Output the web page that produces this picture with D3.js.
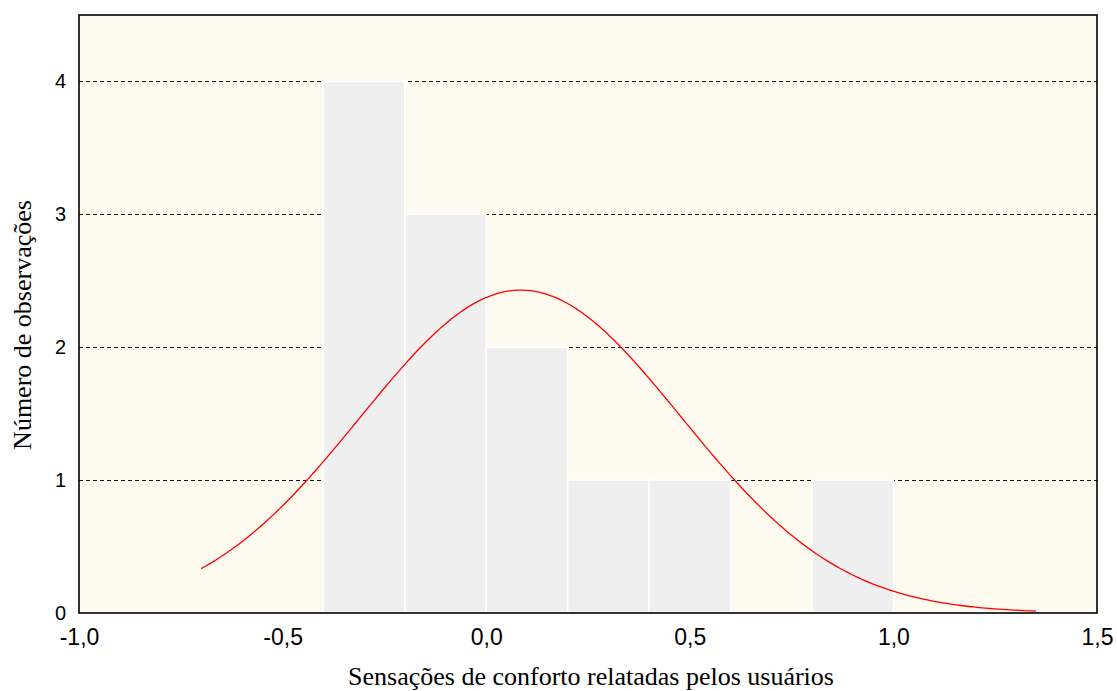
<!DOCTYPE html>
<html>
<head>
<meta charset="utf-8">
<script src="https://cdn.jsdelivr.net/npm/d3@7"></script>
<style>
  body { margin: 0; background: #fff; }
  svg { display: block; }
</style>
</head>
<body>
<div id="chart"></div>
<script>
// histogram bins (lower edge, upper edge, count)
const binStarts = [-0.4, -0.2, 0.0, 0.2, 0.4, 0.6, 0.8]
const binEnds = [-0.2, 0.0, 0.2, 0.4, 0.6, 0.8, 1.0]
const counts = [4, 3, 2, 1, 1, 0, 1]

const xTicks = [-1.0, -0.5, 0.0, 0.5, 1.0, 1.5]
const yTicks = [0, 1, 2, 3, 4]

// fitted normal curve parameters (expected counts)
const fitMean = 0.085
const fitSd = 0.394
const fitN = 12
const fitBinWidth = 0.2
const curveFrom = -0.7
const curveTo = 1.35

const width = 1117
const height = 691
const margin = { top: 15, right: 20, bottom: 78, left: 79 }
const innerW = width - margin.left - margin.right
const innerH = height - margin.top - margin.bottom

const svg = d3.select('#chart')
  .append('svg')
  .attr('width', width)
  .attr('height', height)

const x = d3.scaleLinear().domain([-1.0, 1.5]).range([margin.left, margin.left + innerW])
const y = d3.scaleLinear().domain([0, 4.5]).range([margin.top + innerH, margin.top])

// plot background
svg.append('rect')
  .attr('x', margin.left)
  .attr('y', margin.top)
  .attr('width', innerW)
  .attr('height', innerH)
  .attr('fill', '#fffaef')

// dashed gridlines
svg.append('g')
  .selectAll('line')
  .data(yTicks.filter(d => d > 0))
  .enter()
  .append('line')
  .attr('x1', margin.left)
  .attr('x2', margin.left + innerW)
  .attr('y1', d => Math.round(y(d)) + 0.5)
  .attr('y2', d => Math.round(y(d)) + 0.5)
  .attr('stroke', '#111')
  .attr('stroke-width', 1.2)
  .attr('stroke-dasharray', '4,3')

// bars
svg.append('g')
  .selectAll('rect')
  .data(counts.map((c, i) => ({ x0: binStarts[i], x1: binEnds[i], c })).filter(d => d.c > 0))
  .enter()
  .append('rect')
  .attr('x', d => x(d.x0))
  .attr('y', d => y(d.c))
  .attr('width', d => x(d.x1) - x(d.x0))
  .attr('height', d => y(0) - y(d.c))
  .attr('fill', '#efefef')
  .attr('stroke', '#ffffff')
  .attr('stroke-width', 1.5)

// normal curve
const normal = v => fitN * fitBinWidth / (fitSd * Math.sqrt(2 * Math.PI)) *
  Math.exp(-0.5 * Math.pow((v - fitMean) / fitSd, 2))
const curvePts = d3.range(0, 201).map(i => {
  const v = curveFrom + (curveTo - curveFrom) * i / 200
  return [v, normal(v)]
})

svg.append('path')
  .datum(curvePts)
  .attr('fill', 'none')
  .attr('stroke', '#ff0000')
  .attr('stroke-width', 1.3)
  .attr('d', d3.line().x(d => x(d[0])).y(d => y(d[1])))

// frame
svg.append('rect')
  .attr('x', margin.left)
  .attr('y', margin.top)
  .attr('width', innerW)
  .attr('height', innerH)
  .attr('fill', 'none')
  .attr('stroke', '#000')
  .attr('stroke-width', 1.6)

// axes (labels only)
const fmt = d => d3.format('.1f')(d).replace('.', ',').replace('−', '-')

const xAxis = svg.append('g')
  .attr('transform', `translate(0,${margin.top + innerH})`)
  .call(d3.axisBottom(x).tickValues(xTicks).tickSize(0).tickFormat(fmt))
xAxis.select('.domain').remove()
xAxis.selectAll('text')
  .attr('y', 32)
  .attr('dy', 0)
  .attr('font-family', 'Liberation Sans, Arial, sans-serif')
  .attr('font-size', 23)
  .attr('fill', '#000')

const yAxis = svg.append('g')
  .attr('transform', `translate(${margin.left},0)`)
  .call(d3.axisLeft(y).tickValues(yTicks).tickSize(0).tickPadding(13).tickFormat(d3.format('d')))
yAxis.select('.domain').remove()
yAxis.selectAll('text')
  .attr('font-family', 'Liberation Sans, Arial, sans-serif')
  .attr('font-size', 20)
  .attr('fill', '#000')

// axis titles
svg.append('text')
  .attr('x', margin.left + innerW / 2 + 3)
  .attr('y', 685)
  .attr('text-anchor', 'middle')
  .attr('font-family', 'Liberation Serif, Times New Roman, serif')
  .attr('font-size', 26)
  .text('Sensações de conforto relatadas pelos usuários')

svg.append('text')
  .attr('transform', `translate(31,${margin.top + innerH / 2 + 11}) rotate(-90)`)
  .attr('text-anchor', 'middle')
  .attr('font-family', 'Liberation Serif, Times New Roman, serif')
  .attr('font-size', 26)
  .text('Número de observações')
</script>
</body>
</html>
